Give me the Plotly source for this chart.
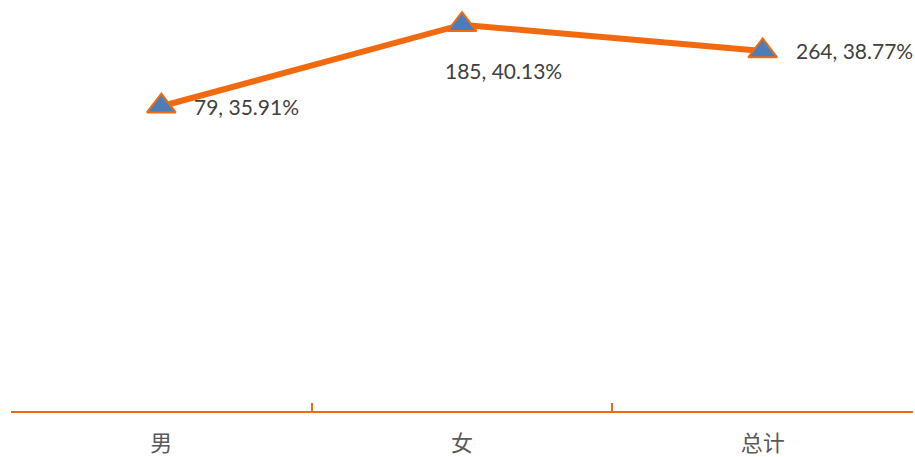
import plotly.graph_objects as go

categories = ["男", "女", "总计"]
counts = [79, 185, 264]
percents = [35.91, 40.13, 38.77]

orange = "#F26A10"
blue = "#4A7EBB"

fig = go.Figure()
fig.add_trace(go.Scatter(
    x=categories, y=percents,
    mode="lines+markers",
    line=dict(color=orange, width=6),
    marker=dict(symbol="triangle-up", size=25, color=blue,
                line=dict(color=orange, width=2)),
    hoverinfo="skip",
))

# data labels, placed as in the original
label_pos = [(31, 0), (-19, -46), (31, 0)]
for cat, n, p, (dx, dy) in zip(categories, counts, percents, label_pos):
    fig.add_annotation(
        x=cat, y=p, text=f"{n}, {p:.2f}%",
        showarrow=False, xanchor="left", yanchor="middle",
        xshift=dx, yshift=dy,
        font=dict(family="Lato, Noto Sans", size=21, color="#404040"),
    )

fig.update_layout(
    width=915, height=457,
    margin=dict(l=11, r=2, t=0, b=42),
    paper_bgcolor="white", plot_bgcolor="white",
    showlegend=False,
    xaxis=dict(
        range=[-0.5, 2.5], tickson="boundaries",
        ticks="inside", ticklen=8, tickwidth=2, tickcolor=orange,
        showline=True, linecolor=orange, linewidth=2,
        showgrid=False, zeroline=False, ticklabelstandoff=12,
        tickfont=dict(family="Noto Sans CJK SC", size=22, color="#595959"),
    ),
    yaxis=dict(
        range=[20.13, 41.41], visible=False,
        showgrid=False, zeroline=False,
    ),
)

fig.write_html("out.html", config={"displayModeBar": False},
               post_script="document.body.style.margin='0';document.body.style.overflow='hidden';")
